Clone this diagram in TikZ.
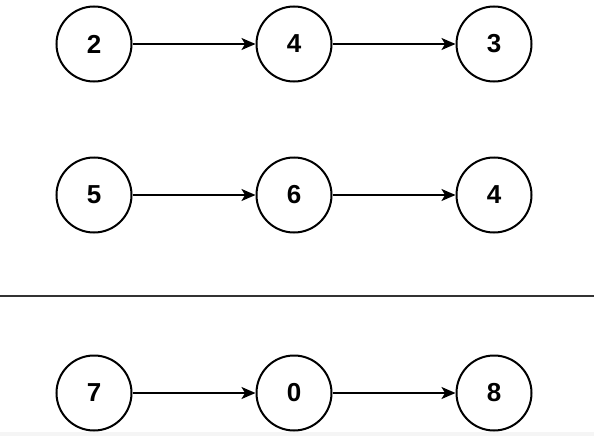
\documentclass[tikz,border=0pt]{standalone}
\usepackage{fontspec}
\setmainfont{Liberation Sans}
\usetikzlibrary{arrows.meta}
\tikzset{
  digit/.style={circle,draw,line width=2pt,minimum size=75pt,inner sep=0pt,
    font=\fontsize{26}{30}\selectfont\bfseries},
  link/.style={line width=1.6pt,-{Stealth[length=14pt,width=12pt,inset=3.5pt]}}
}
\begin{document}
\begin{tikzpicture}[x=1pt,y=-1pt]
\useasboundingbox (0,0) rectangle (594,436);
\fill[black!4] (0,432) rectangle (594,436);

% two input lists and their sum
\foreach \row/\y/\a/\b/\c in {t/44/2/4/3, m/195/5/6/4, s/393/7/0/8}{
    \node[digit] (\row1) at (94,\y) {\a};
    \node[digit] (\row2) at (294,\y) {\b};
    \node[digit] (\row3) at (494,\y) {\c};
    \draw[link] (\row1) -- (\row2);
    \draw[link] (\row2) -- (\row3);
}

% separator line
\coordinate (sepL) at (0,296);
\coordinate (sepR) at (594,296);
\draw[line width=2pt,black!80] (sepL) -- (sepR);
\end{tikzpicture}
\end{document}
